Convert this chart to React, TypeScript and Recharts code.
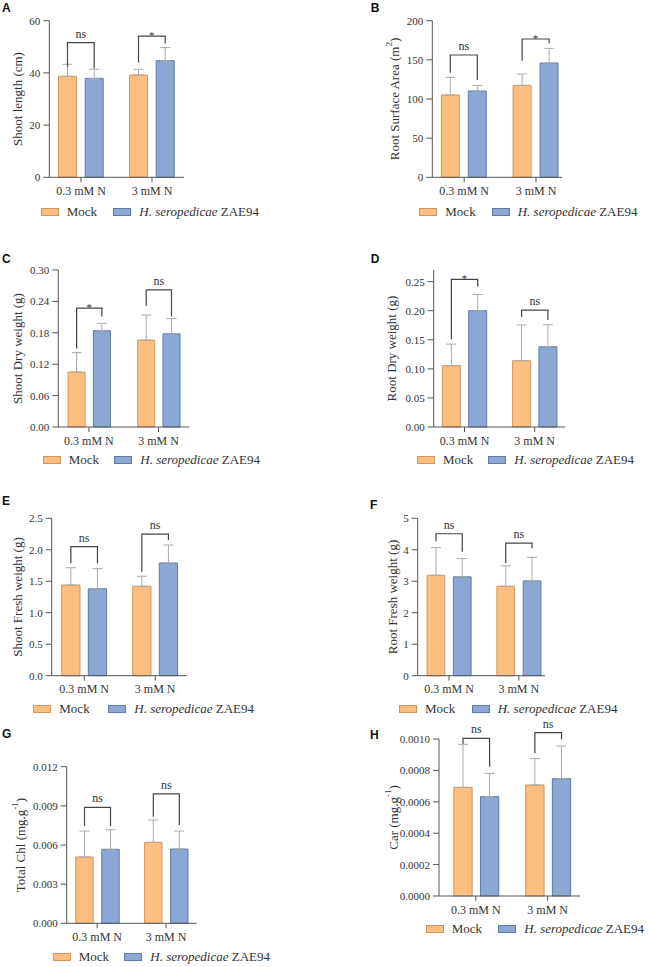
import React from "react";
import { BarChart, Bar, XAxis, YAxis, ErrorBar, LabelList } from "recharts";

const categories = ["0.3 mM N", "3 mM N"];
const seriesNames = ["Mock", "H. seropedicae ZAE94"];

// A - shoot length
const shootLenMock = [38.7, 39.2];
const shootLenMockSd = [4.6, 2.2];
const shootLenZae = [37.9, 44.7];
const shootLenZaeSd = [3.5, 5.0];
const shootLenBracket = [51.6, 54.1];
const shootLenLegMock = [42.4, 44.0];
const shootLenLegZae = [41.7, 51.3];
const shootLenSig = ["ns", "*"];
const shootLenTicks = [0, 20, 40, 60];

// B - root surface area
const rootAreaMock = [105.1, 117.4];
const rootAreaMockSd = [22.6, 14.5];
const rootAreaZae = [110.2, 145.9];
const rootAreaZaeSd = [7.2, 18.8];
const rootAreaBracket = [156.2, 176.6];
const rootAreaLegMock = [133.6, 148.9];
const rootAreaLegZae = [124.3, 171.1];
const rootAreaSig = ["ns", "*"];
const rootAreaTicks = [0, 50, 100, 150, 200];

// C - shoot dry weight
const shootDryMock = [0.105, 0.166];
const shootDryMockSd = [0.037, 0.048];
const shootDryZae = [0.184, 0.178];
const shootDryZaeSd = [0.014, 0.029];
const shootDryBracket = [0.227, 0.262];
const shootDryLegMock = [0.15, 0.231];
const shootDryLegZae = [0.211, 0.211];
const shootDrySig = ["*", "ns"];
const shootDryTicks = [0, 0.06, 0.12, 0.18, 0.24, 0.3];

// D - root dry weight
const rootDryMock = [0.1055, 0.114];
const rootDryMockSd = [0.037, 0.0615];
const rootDryZae = [0.2, 0.138];
const rootDryZaeSd = [0.028, 0.038];
const rootDryBracket = [0.254, 0.201];
const rootDryLegMock = [0.151, 0.189];
const rootDryLegZae = [0.241, 0.184];
const rootDrySig = ["*", "ns"];
const rootDryTicks = [0, 0.05, 0.1, 0.15, 0.2, 0.25];

// E - shoot fresh weight
const shootFreshMock = [1.44, 1.42];
const shootFreshMockSd = [0.275, 0.16];
const shootFreshZae = [1.38, 1.79];
const shootFreshZaeSd = [0.32, 0.285];
const shootFreshBracket = [2.05, 2.25];
const shootFreshLegMock = [1.785, 1.653];
const shootFreshLegZae = [1.785, 2.156];
const shootFreshSig = ["ns", "ns"];
const shootFreshTicks = [0, 0.5, 1, 1.5, 2, 2.5];

// F - root fresh weight
const rootFreshMock = [3.19, 2.84];
const rootFreshMockSd = [0.88, 0.65];
const rootFreshZae = [3.14, 3.01];
const rootFreshZaeSd = [0.58, 0.75];
const rootFreshBracket = [4.51, 4.21];
const rootFreshLegMock = [4.26, 3.57];
const rootFreshLegZae = [3.94, 4.05];
const rootFreshSig = ["ns", "ns"];
const rootFreshTicks = [0, 1, 2, 3, 4, 5];

// G - total chlorophyll
const chlMock = [0.00508, 0.0062];
const chlMockSd = [0.00199, 0.00171];
const chlZae = [0.00567, 0.00569];
const chlZaeSd = [0.0015, 0.00138];
const chlBracket = [0.00888, 0.00991];
const chlLegMock = [0.00746, 0.00817];
const chlLegZae = [0.00746, 0.00753];
const chlSig = ["ns", "ns"];
const chlTicks = [0, 0.003, 0.006, 0.009, 0.012];

// H - carotenoids
const carMock = [0.000692, 0.000707];
const carMockSd = [0.000274, 0.000168];
const carZae = [0.000633, 0.000747];
const carZaeSd = [0.000148, 0.000208];
const carBracket = [0.001004, 0.00104];
const carLegMock = [0.000968, 0.000909];
const carLegZae = [0.000824, 0.000998];
const carSig = ["ns", "ns"];
const carTicks = [0, 0.0002, 0.0004, 0.0006, 0.0008, 0.001];

const MOCK_FILL = "#fdbf80";
const MOCK_STROKE = "#cf9560";
const ZAE_FILL = "#8aa8d3";
const ZAE_STROKE = "#5d7aa5";
const INK = "#333";
const AXIS = "#555";
const SERIF = '"Liberation Serif", "Times New Roman", serif';
const PAD = 20; // room above each plot so brackets are not clipped

function bracketLabel(p: any, gap: number) {
  return (props: any) => {
    const vb = props.viewBox || props;
    let i = props.index;
    if (i == null) i = p.zae.indexOf(props.value);
    if (i == null || i < 0 || !vb || !vb.height) return null;
    const { x, y, width, height } = vb;
    const base = y + height;
    const ppu = height / p.zae[i];
    const cz = x + width / 2;
    const cm = cz - width - gap;
    const yb = base - p.bracket[i] * ppu;
    const star = p.sig[i] === "*";
    return (
      <g>
        <polyline
          points={`${cm},${base - p.legMock[i] * ppu} ${cm},${yb} ${cz},${yb} ${cz},${base - p.legZae[i] * ppu}`}
          fill="none"
          stroke="#444"
          strokeWidth={1.2}
        />
        <text x={(cm + cz) / 2} y={star ? yb + 2.5 : yb - 5} textAnchor="middle" fontSize={star ? 11 : 12} fill={INK} fontFamily={SERIF}>
          {p.sig[i]}
        </text>
      </g>
    );
  };
}

function Panel({ p, L }: { p: any; L: any }) {
  const data = categories.map((cat, i) => ({
    cat,
    mock: p.mock[i],
    mockErr: [0, p.mockSd[i]],
    zae: p.zae[i],
    zaeErr: [0, p.zaeSd[i]],
  }));
  const d = L.c2 - L.c1;
  const padL = L.c1 - d / 2 - L.axisX;
  const padR = L.xEnd - (L.c2 + d / 2);
  const W = 324;
  const H = 240 + PAD;
  const top0 = L.top - PAD;
  const margin = {
    top: L.plotTop - top0,
    left: 0,
    right: L.left + W - L.xEnd,
    bottom: H - (L.plotBottom - top0) - 30,
  };
  const tx = L.titleX - L.left;
  const ty = (L.plotTop + L.plotBottom) / 2 - top0;
  return (
    <div style={{ position: "absolute", left: L.left, top: top0, width: W, height: H }}>
      <BarChart width={W} height={H} data={data} margin={margin} barSize={L.barSize} barGap={L.barGap}>
        <XAxis
          dataKey="cat"
          interval={0}
          padding={{ left: padL, right: padR }}
          height={30}
          tickSize={5}
          tickMargin={4}
          axisLine={{ stroke: AXIS }}
          tickLine={{ stroke: AXIS }}
          tick={{ fill: INK, fontSize: 12, fontFamily: SERIF }}
        />
        <YAxis
          width={L.axisX - L.left}
          domain={[0, p.max]}
          ticks={p.ticks}
          interval={0}
          tickSize={6}
          tickMargin={3}
          tickFormatter={(v: number) => v.toFixed(p.dec)}
          axisLine={{ stroke: AXIS }}
          tickLine={{ stroke: AXIS }}
          tick={{ fill: INK, fontSize: 11, fontFamily: SERIF }}
          label={() => (
            <text
              x={tx}
              y={ty}
              transform={`rotate(-90 ${tx} ${ty})`}
              textAnchor="middle"
              dominantBaseline="central"
              fontSize={13}
              fill={INK}
              fontFamily={SERIF}
            >
              {p.title}
              {p.sup ? (
                <>
                  <tspan dy={-5} fontSize={9}>{p.sup}</tspan>
                  <tspan dy={5}>)</tspan>
                </>
              ) : null}
            </text>
          )}
        />
        <Bar dataKey="mock" name={seriesNames[0]} fill={MOCK_FILL} stroke={MOCK_STROKE} strokeWidth={1} isAnimationActive={false}>
          <ErrorBar dataKey="mockErr" direction="y" width={5} stroke="#aaa" strokeWidth={1} />
        </Bar>
        <Bar dataKey="zae" name={seriesNames[1]} fill={ZAE_FILL} stroke={ZAE_STROKE} strokeWidth={1} isAnimationActive={false}>
          <ErrorBar dataKey="zaeErr" direction="y" width={5} stroke="#aaa" strokeWidth={1} />
          <LabelList dataKey="zae" content={bracketLabel(p, L.barGap)} />
        </Bar>
      </BarChart>
      <LegendRow L={L} top0={top0} />
    </div>
  );
}

function LegendRow({ L, top0 }: { L: any; top0: number }) {
  const y = L.legendY - top0;
  const sw = (x: number, fill: string, stroke: string) => (
    <div
      style={{
        position: "absolute",
        left: x - L.left,
        top: y - 4,
        width: 18,
        height: 8,
        background: fill,
        border: `1px solid ${stroke}`,
        boxSizing: "border-box",
      }}
    />
  );
  const txt = { position: "absolute" as const, top: y - 8, fontSize: 13, lineHeight: "16px", color: INK, fontFamily: SERIF, whiteSpace: "nowrap" as const };
  return (
    <>
      {sw(L.swatchMock, MOCK_FILL, MOCK_STROKE)}
      <span style={{ ...txt, left: L.swatchMock - L.left + 26 }}>{seriesNames[0]}</span>
      {sw(L.swatchZae, ZAE_FILL, ZAE_STROKE)}
      <span style={{ ...txt, left: L.swatchZae - L.left + 26 }}>
        <i>H. seropedicae</i> ZAE94
      </span>
    </>
  );
}

const panels = [
  {
    letter: "A",
    p: { mock: shootLenMock, mockSd: shootLenMockSd, zae: shootLenZae, zaeSd: shootLenZaeSd, bracket: shootLenBracket, legMock: shootLenLegMock, legZae: shootLenLegZae, sig: shootLenSig, ticks: shootLenTicks, max: 60, dec: 0, title: "Shoot length (cm)" },
    L: { left: 0, top: 0, axisX: 49.3, plotTop: 20.7, plotBottom: 177.3, xEnd: 184, c1: 81, c2: 152, barSize: 18, barGap: 8.7, titleX: 17.7, legendY: 212, swatchMock: 40.7, swatchZae: 113.3, lx: 2, ly: 12.3 },
  },
  {
    letter: "B",
    p: { mock: rootAreaMock, mockSd: rootAreaMockSd, zae: rootAreaZae, zaeSd: rootAreaZaeSd, bracket: rootAreaBracket, legMock: rootAreaLegMock, legZae: rootAreaLegZae, sig: rootAreaSig, ticks: rootAreaTicks, max: 200, dec: 0, title: "Root Surface Area (m", sup: "2" },
    L: { left: 325, top: 0, axisX: 432.3, plotTop: 20.7, plotBottom: 177.3, xEnd: 562.3, c1: 464.2, c2: 536, barSize: 18, barGap: 9, titleX: 394.3, legendY: 212, swatchMock: 419.3, swatchZae: 491.7, lx: 370.7, ly: 12.3 },
  },
  {
    letter: "C",
    p: { mock: shootDryMock, mockSd: shootDryMockSd, zae: shootDryZae, zaeSd: shootDryZaeSd, bracket: shootDryBracket, legMock: shootDryLegMock, legZae: shootDryLegZae, sig: shootDrySig, ticks: shootDryTicks, max: 0.3, dec: 2, title: "Shoot Dry weight (g)" },
    L: { left: 0, top: 240, axisX: 58.3, plotTop: 270, plotBottom: 427, xEnd: 189.3, c1: 88.9, c2: 158.5, barSize: 17, barGap: 8.3, titleX: 17.7, legendY: 460, swatchMock: 42.7, swatchZae: 114.3, lx: 2, ly: 262.7 },
  },
  {
    letter: "D",
    p: { mock: rootDryMock, mockSd: rootDryMockSd, zae: rootDryZae, zaeSd: rootDryZaeSd, bracket: rootDryBracket, legMock: rootDryLegMock, legZae: rootDryLegZae, sig: rootDrySig, ticks: rootDryTicks, max: 0.27, dec: 2, title: "Root Dry weight (g)" },
    L: { left: 325, top: 240, axisX: 433.7, plotTop: 270, plotBottom: 427, xEnd: 565, c1: 464.5, c2: 534.7, barSize: 18, barGap: 8.3, titleX: 391.7, legendY: 460, swatchMock: 417, swatchZae: 488.3, lx: 370.7, ly: 262.7 },
  },
  {
    letter: "E",
    p: { mock: shootFreshMock, mockSd: shootFreshMockSd, zae: shootFreshZae, zaeSd: shootFreshZaeSd, bracket: shootFreshBracket, legMock: shootFreshLegMock, legZae: shootFreshLegZae, sig: shootFreshSig, ticks: shootFreshTicks, max: 2.5, dec: 1, title: "Shoot Fresh weight (g)" },
    L: { left: 0, top: 480, axisX: 51.7, plotTop: 518.3, plotBottom: 675.7, xEnd: 186.7, c1: 84.2, c2: 155.2, barSize: 18.3, barGap: 8.3, titleX: 17.3, legendY: 708.7, swatchMock: 33.3, swatchZae: 108.3, lx: 2, ly: 505 },
  },
  {
    letter: "F",
    p: { mock: rootFreshMock, mockSd: rootFreshMockSd, zae: rootFreshZae, zaeSd: rootFreshZaeSd, bracket: rootFreshBracket, legMock: rootFreshLegMock, legZae: rootFreshLegZae, sig: rootFreshSig, ticks: rootFreshTicks, max: 5, dec: 0, title: "Root Fresh weight (g)" },
    L: { left: 325, top: 480, axisX: 417.7, plotTop: 518.3, plotBottom: 675.7, xEnd: 545, c1: 449, c2: 518.8, barSize: 17.7, barGap: 8.6, titleX: 392.7, legendY: 708.7, swatchMock: 399, swatchZae: 471.7, lx: 370, ly: 509.3 },
  },
  {
    letter: "G",
    p: { mock: chlMock, mockSd: chlMockSd, zae: chlZae, zaeSd: chlZaeSd, bracket: chlBracket, legMock: chlLegMock, legZae: chlLegZae, sig: chlSig, ticks: chlTicks, max: 0.012, dec: 3, title: "Total Chl (mg.g", sup: "-1" },
    L: { left: 0, top: 720, axisX: 66.7, plotTop: 766.7, plotBottom: 923.3, xEnd: 196.7, c1: 97.2, c2: 166, barSize: 17.4, barGap: 8.6, titleX: 20, legendY: 956.7, swatchMock: 52.7, swatchZae: 124.3, lx: 2, ly: 738 },
  },
  {
    letter: "H",
    p: { mock: carMock, mockSd: carMockSd, zae: carZae, zaeSd: carZaeSd, bracket: carBracket, legMock: carLegMock, legZae: carLegZae, sig: carSig, ticks: carTicks, max: 0.001, dec: 4, title: "Car (mg.g", sup: "-1" },
    L: { left: 325, top: 720, axisX: 439, plotTop: 739, plotBottom: 896, xEnd: 580, c1: 475.8, c2: 547.7, barSize: 18.3, barGap: 8.3, titleX: 393.3, legendY: 929.3, swatchMock: 425.7, swatchZae: 498.3, lx: 370, ly: 739.3 },
  },
];

export default function App() {
  return (
    <div style={{ position: "absolute", left: 0, top: 0, width: 649, height: 967, background: "#fff", overflow: "hidden" }}>
      {panels.map((pn) => (
        <Panel key={pn.letter} p={pn.p} L={pn.L} />
      ))}
      <svg width={649} height={967} style={{ position: "absolute", left: 0, top: 0, pointerEvents: "none" }}>
        {panels.map((pn) => (
          <text key={pn.letter} x={pn.L.lx} y={pn.L.ly} fontSize={12} fontWeight="bold" fontFamily='"Liberation Sans", Arial, sans-serif' fill="#111">
            {pn.letter}
          </text>
        ))}
      </svg>
    </div>
  );
}
